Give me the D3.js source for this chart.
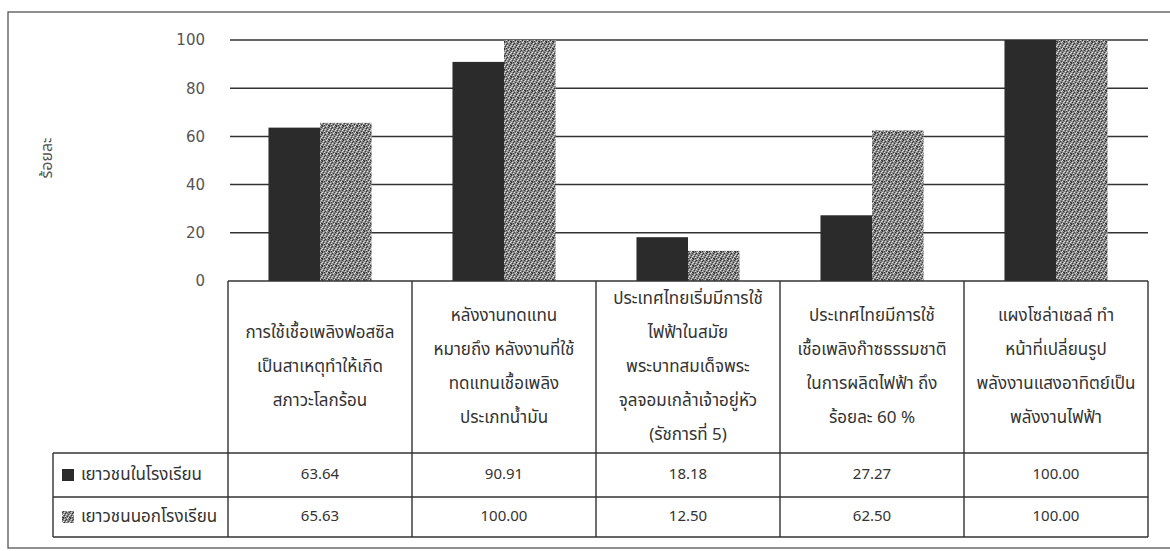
<!DOCTYPE html>
<html lang="th">
  <head>
    <meta charset="utf-8" />
    <title>ร้อยละ</title>
    <script src="https://cdn.jsdelivr.net/npm/d3@7"></script>
    <style>
      body { margin: 0; background: #fff; }
      svg text { font-family: Tahoma, "Noto Sans Thai", "Noto Sans", "DejaVu Sans", sans-serif; fill: #333; }
    </style>
  </head>
  <body>
    <div id="chart"></div>
    <script type="text/javascript">
      // data
      const categories = [
        ["การใช้เชื้อเพลิงฟอสซิล", "เป็นสาเหตุทำให้เกิด", "สภาวะโลกร้อน"],
        ["หลังงานทดแทน", "หมายถึง หลังงานที่ใช้", "ทดแทนเชื้อเพลิง", "ประเภทน้ำมัน"],
        ["ประเทศไทยเริ่มมีการใช้", "ไฟฟ้าในสมัย", "พระบาทสมเด็จพระ", "จุลจอมเกล้าเจ้าอยู่หัว", "(รัชการที่ 5)"],
        ["ประเทศไทยมีการใช้", "เชื้อเพลิงก๊าซธรรมชาติ", "ในการผลิตไฟฟ้า ถึง", "ร้อยละ 60 %"],
        ["แผงโซล่าเซลล์ ทำ", "หน้าที่เปลี่ยนรูป", "พลังงานแสงอาทิตย์เป็น", "พลังงานไฟฟ้า"]
      ];
      const seriesNames = ["เยาวชนในโรงเรียน", "เยาวชนนอกโรงเรียน"];
      const inSchool = [63.64, 90.91, 18.18, 27.27, 100.00];
      const outSchool = [65.63, 100.00, 12.50, 62.50, 100.00];
      const yTicks = [0, 20, 40, 60, 80, 100];
      const yTitle = "ร้อยละ";

      const width = 1170, height = 551;
      const plotLeft = 228, plotRight = 1148, plotTop = 40, plotBottom = 281;
      const headerBottom = 453, row1Bottom = 497, row2Bottom = 537, legendLeft = 53;
      const lineCol = "#333";

      const svg = d3.select("#chart").append("svg")
        .attr("width", width).attr("height", height);

      // speckled grey fill for the second series
      const defs = svg.append("defs");
      const pat = defs.append("pattern").attr("id", "speckle")
        .attr("patternUnits", "userSpaceOnUse").attr("width", 7).attr("height", 7);
      pat.append("rect").attr("width", 7).attr("height", 7).attr("fill", "#8a8a8a");
      const darkDots = [[0,0],[3,1],[5,3],[1,4],[4,5],[6,6],[2,2],[0,6],[6,1],[2,6]];
      const lightDots = [[1,1],[4,0],[6,4],[2,5],[3,3],[0,3],[5,6]];
      darkDots.forEach(d => pat.append("rect").attr("x", d[0]).attr("y", d[1]).attr("width", 1).attr("height", 1).attr("fill", "#383838"));
      lightDots.forEach(d => pat.append("rect").attr("x", d[0]).attr("y", d[1]).attr("width", 1).attr("height", 1).attr("fill", "#e0e0e0"));

      const fills = ["#2b2b2b", "url(#speckle)"];
      const values = [inSchool, outSchool];

      // outer frame
      svg.append("rect").attr("x", 8).attr("y", 12).attr("width", 1175).attr("height", 536)
        .attr("fill", "none").attr("stroke", "#555").attr("stroke-width", 1.3);

      const x = d3.scaleBand().domain(d3.range(categories.length))
        .range([plotLeft, plotRight]).paddingInner(0.44).paddingOuter(0.22);
      const xSub = d3.scaleBand().domain(d3.range(seriesNames.length)).range([0, x.bandwidth()]);
      const y = d3.scaleLinear().domain([0, 100]).range([plotBottom, plotTop]);

      // gridlines
      svg.append("g").selectAll("line").data(yTicks.filter(t => t > 0)).join("line")
        .attr("x1", plotLeft + 2).attr("x2", plotRight)
        .attr("y1", d => y(d)).attr("y2", d => y(d))
        .attr("stroke", lineCol).attr("stroke-width", 1.5);

      // tick labels
      const yAxis = svg.append("g").attr("transform", `translate(${plotLeft},0)`)
        .call(d3.axisLeft(y).tickValues(yTicks).tickSize(0).tickPadding(23));
      yAxis.select(".domain").remove();
      yAxis.selectAll("text").style("font-size", "15px").style("fill", "#555")
        .style("font-family", "Tahoma, 'DejaVu Sans', sans-serif");

      svg.append("text").attr("transform", "translate(48,158) rotate(-90)")
        .attr("text-anchor", "middle").attr("dominant-baseline", "middle")
        .style("font-size", "16px").style("fill", "#555").text(yTitle);

      // bars
      values.forEach((vals, s) => {
        svg.append("g").selectAll("rect").data(vals).join("rect")
          .attr("x", (d, i) => x(i) + xSub(s))
          .attr("y", d => y(d))
          .attr("width", xSub.bandwidth())
          .attr("height", d => y(0) - y(d))
          .attr("fill", fills[s]);
      });

      // data table
      const step = x.step();
      const colEdges = d3.range(categories.length + 1).map(i => plotLeft + i * step);
      const tbl = svg.append("g").attr("stroke", lineCol).attr("stroke-width", 1.4);
      tbl.append("line").attr("x1", plotLeft).attr("x2", plotRight).attr("y1", plotBottom).attr("y2", plotBottom);
      [headerBottom, row1Bottom, row2Bottom].forEach(yy =>
        tbl.append("line").attr("x1", legendLeft).attr("x2", plotRight).attr("y1", yy).attr("y2", yy));
      colEdges.forEach(xx =>
        tbl.append("line").attr("x1", xx).attr("x2", xx).attr("y1", plotBottom).attr("y2", row2Bottom));
      tbl.append("line").attr("x1", legendLeft).attr("x2", legendLeft).attr("y1", headerBottom).attr("y2", row2Bottom);

      // category labels
      const lineH = 34;
      categories.forEach((lines, i) => {
        const cx = x(i) + x.bandwidth() / 2;
        const cy = (plotBottom + headerBottom) / 2;
        const t = svg.append("text").attr("text-anchor", "middle").style("font-size", "17px");
        lines.forEach((ln, k) => {
          t.append("tspan").attr("x", cx)
            .attr("y", cy + (k - (lines.length - 1) / 2) * lineH)
            .attr("dominant-baseline", "middle").text(ln);
        });
      });

      // values rows + legend keys
      const rowMid = [(headerBottom + row1Bottom) / 2, (row1Bottom + row2Bottom) / 2];
      values.forEach((vals, s) => {
        svg.append("g").selectAll("text").data(vals).join("text")
          .attr("x", (d, i) => x(i) + x.bandwidth() / 2)
          .attr("y", rowMid[s])
          .attr("text-anchor", "middle").attr("dominant-baseline", "middle")
          .style("font-size", "15px").text(d => d.toFixed(2));
        svg.append("rect").attr("x", 62).attr("y", rowMid[s] - 6)
          .attr("width", 12).attr("height", 12).attr("fill", fills[s]);
        svg.append("text").attr("x", 81).attr("y", rowMid[s])
          .attr("dominant-baseline", "middle").style("font-size", "17px").text(seriesNames[s]);
      });
    </script>
  </body>
</html>
